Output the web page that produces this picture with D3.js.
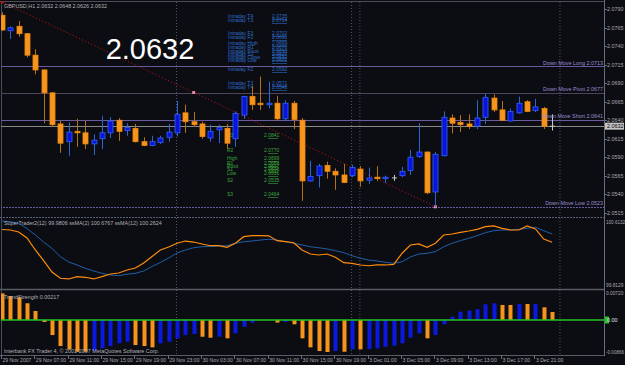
<!DOCTYPE html>
<html>
<head>
<meta charset="utf-8">
<script src="https://cdn.jsdelivr.net/npm/d3@7"></script>
<style>
body { margin: 0; background: #0c0d12; }
svg { display: block; }
</style>
</head>
<body>
<div id="viz"></div>
<script>
// GBPUSD H1, 29 Nov 03:00 -> 3 Dec 22:00 (67 bars)
const open = [2.0782, 2.0761, 2.0767, 2.0757, 2.0728, 2.0708, 2.0677, 2.0635, 2.0611, 2.0625,
  2.0623, 2.0608, 2.0615, 2.0623, 2.0640, 2.0626, 2.0629, 2.0611, 2.0606, 2.0610,
  2.0617, 2.0623, 2.0650, 2.0638, 2.0635, 2.0616, 2.0627, 2.0629, 2.0615, 2.0647,
  2.0672, 2.0663, 2.0661, 2.0663, 2.0642, 2.0663, 2.0640, 2.0558, 2.0565, 2.0579,
  2.0571, 2.0566, 2.0565, 2.0574, 2.0559, 2.0563, 2.0561, 2.0562, 2.0565, 2.0572,
  2.0591, 2.0597, 2.0543, 2.0592, 2.0643, 2.0637, 2.0635, 2.0632, 2.0644, 2.0670,
  2.0654, 2.0639, 2.0650, 2.0665, 2.0653, 2.0656, 2.0632];
const high = [2.0786, 2.0767, 2.0774, 2.0758, 2.0736, 2.0709, 2.0678, 2.0639, 2.0637, 2.0642,
  2.0639, 2.0621, 2.0646, 2.0644, 2.0643, 2.0636, 2.0635, 2.0617, 2.0619, 2.0619,
  2.0635, 2.0666, 2.0661, 2.0651, 2.0638, 2.0634, 2.0634, 2.0635, 2.0652, 2.0673,
  2.0686, 2.0699, 2.0692, 2.0673, 2.0667, 2.0666, 2.0643, 2.0585, 2.0581, 2.0584,
  2.0575, 2.0581, 2.0580, 2.0578, 2.0576, 2.0578, 2.0565, 2.0566, 2.0577, 2.0600,
  2.0636, 2.0598, 2.0597, 2.0652, 2.0648, 2.0647, 2.0648, 2.0667, 2.0676, 2.0675,
  2.0666, 2.0656, 2.0672, 2.0667, 2.0669, 2.0658, 2.0648];
const low = [2.0761, 2.0750, 2.0753, 2.0725, 2.0702, 2.0636, 2.0631, 2.0596, 2.0592, 2.0604,
  2.0601, 2.0593, 2.0601, 2.0616, 2.0612, 2.0619, 2.0610, 2.0605, 2.0605, 2.0608,
  2.0611, 2.0618, 2.0623, 2.0631, 2.0615, 2.0611, 2.0609, 2.0601, 2.0604, 2.0642,
  2.0654, 2.0654, 2.0656, 2.0639, 2.0639, 2.0628, 2.0531, 2.0557, 2.0549, 2.0561,
  2.0546, 2.0555, 2.0563, 2.0550, 2.0554, 2.0558, 2.0555, 2.0558, 2.0563, 2.0566,
  2.0589, 2.0540, 2.0523, 2.0591, 2.0622, 2.0624, 2.0628, 2.0628, 2.0635, 2.0651,
  2.0639, 2.0638, 2.0649, 2.0651, 2.0651, 2.0628, 2.0626];
const close = [2.0762, 2.0765, 2.0757, 2.0728, 2.0708, 2.0677, 2.0634, 2.0609, 2.0624, 2.0623,
  2.0608, 2.0613, 2.0623, 2.0639, 2.0625, 2.0630, 2.0611, 2.0606, 2.0611, 2.0616,
  2.0624, 2.0648, 2.0638, 2.0634, 2.0618, 2.0625, 2.0630, 2.0609, 2.0649, 2.0672,
  2.0661, 2.0661, 2.0663, 2.0642, 2.0663, 2.0641, 2.0558, 2.0564, 2.0578, 2.0571,
  2.0566, 2.0556, 2.0576, 2.0558, 2.0562, 2.0561, 2.0563, 2.0562, 2.0571, 2.0590,
  2.0597, 2.0542, 2.0594, 2.0644, 2.0636, 2.0634, 2.0632, 2.0643, 2.0671, 2.0654,
  2.0640, 2.0652, 2.0663, 2.0652, 2.0658, 2.0632, 2.0632];

// oscillator window (ssMA 2 / ssMA 12)
const oscFast = [100.500, 100.494, 100.470, 100.398, 100.255, 100.129, 99.992, 99.917, 99.909, 99.936,
  99.929, 99.909, 99.936, 99.968, 99.980, 100.016, 100.040, 100.100, 100.177, 100.255,
  100.291, 100.335, 100.362, 100.350, 100.327, 100.306, 100.306, 100.287, 100.335, 100.414,
  100.426, 100.426, 100.424, 100.366, 100.354, 100.342, 100.255, 100.207, 100.195, 100.207,
  100.168, 100.103, 100.096, 100.076, 100.067, 100.076, 100.076, 100.084, 100.216, 100.315,
  100.327, 100.287, 100.335, 100.434, 100.446, 100.466, 100.482, 100.502, 100.533, 100.542,
  100.514, 100.494, 100.494, 100.542, 100.506, 100.386, 100.347];
const oscSlow = [100.601, 100.593, 100.571, 100.512, 100.434, 100.350, 100.273, 100.175, 100.112, 100.076,
  100.036, 100.004, 99.977, 99.956, 99.948, 99.965, 99.977, 100.004, 100.058, 100.106,
  100.159, 100.219, 100.255, 100.282, 100.294, 100.297, 100.303, 100.306, 100.335, 100.354,
  100.362, 100.374, 100.383, 100.374, 100.354, 100.335, 100.315, 100.294, 100.282, 100.267,
  100.247, 100.223, 100.187, 100.156, 100.135, 100.124, 100.108, 100.096, 100.115, 100.171,
  100.207, 100.215, 100.235, 100.294, 100.335, 100.366, 100.395, 100.426, 100.462, 100.485,
  100.494, 100.494, 100.502, 100.514, 100.526, 100.485, 100.446];

// strength histogram, tone 1 = blue, 0 = orange
const strength = [0.0072, 0.0065, 0.00615, 0.00453, 0.00244, -0.00054, -0.00407, -0.00705, -0.00794, -0.00859,
  -0.00859, -0.00832, -0.00767, -0.00705, -0.00631, -0.00588, -0.00678, -0.00705, -0.0074, -0.00631,
  -0.00588, -0.00496, -0.00407, -0.00379, -0.00453, -0.0048, -0.00453, -0.00496, -0.0036, -0.00182,
  -0.00073, -0.0001, 0.00005, -0.0007, -0.0005, -0.00117, -0.00496, -0.0074, -0.0084, -0.00866,
  -0.0084, -0.00859, -0.00794, -0.00794, -0.00786, -0.00767, -0.00724, -0.00696, -0.00631, -0.0048,
  -0.0036, -0.00496, -0.00407, -0.00117, 0.00089, 0.00225, 0.00252, 0.0029, 0.00425, 0.00453,
  0.00407, 0.00407, 0.00434, 0.00434, 0.00434, 0.00344, 0.00217];
const strengthTone = [0,0,0,0,0,0,0,0,0,0, 0,1,1,1,1,1,0,0,0,1, 1,1,1,1,0,0,1,0,1,1,
  1,1,1,0,1,0,0,0,0,0, 1,0,1,0,1,1,1,1,1,1, 1,0,1,1,1,1,1,1,1,1, 0,0,1,0,1,0,0];

const timeTicks = [0, 4, 8, 12, 16, 20, 24, 28, 32, 36, 40, 44, 48, 52, 56, 60, 64];
const timeLabels = ["29 Nov 2007", "29 Nov 07:00", "29 Nov 11:00", "29 Nov 15:00", "29 Nov 19:00",
  "29 Nov 23:00", "30 Nov 03:00", "30 Nov 07:00", "30 Nov 11:00", "30 Nov 15:00", "30 Nov 19:00",
  "3 Dec 01:00", "3 Dec 05:00", "3 Dec 09:00", "3 Dec 13:00", "3 Dec 17:00", "3 Dec 21:00"];
const daySeparators = [21, 42, 43, 67];

const priceTicks = [2.0790, 2.0765, 2.0740, 2.0715, 2.0690, 2.0665, 2.0640, 2.0615, 2.0590, 2.0565, 2.0540, 2.0515];
const lastPrice = 2.0632;

const levelNames = ["Down Move Long", "Down Move Pivot", "Down Move Short", "Down Move Low"];
const levelValues = [2.0713, 2.0677, 2.0641, 2.0523];

const trendBars = [0, 52];
const trendPrices = [2.0800, 2.0523];

const intradayNames = ["Intraday  T4", "Intraday  T3", "Intraday  F3", "Intraday  F2", "Intraday  High",
  "Intraday  R1", "Intraday  Pivot", "Intraday  S1", "Intraday  Close", "Intraday  Low",
  "Intraday  F2", "Intraday  T3", "Intraday  T4"];
const intradayValues = ["2.0735", "2.0714", "2.0702", "2.0691", "2.0699", "2.0676", "2.0650",
  "2.0627", "2.0632", "2.0601", "2.0592", "2.0571", "2.0548"];
const dailyNames = ["R3", "R2", "High", "R1", "Pivot", "S1", "Low", "S2", "S3"];
const dailyValues = ["2.0841", "2.0770", "2.0699", "2.0688", "2.0617", "2.0606", "2.0531", "2.0535", "2.0464"];

const W = 625, H = 365, AX = 604;
const FONT = "'Liberation Sans', Arial, sans-serif";
const SMALL = 5.4;   // visual size of the small terminal text

const svg = d3.select("#viz").append("svg")
    .attr("width", W)
    .attr("height", H)
    .style("background", "#0c0d12");

// small text is drawn at 10px and scaled down, so the browser minimum font size does not kick in
function tiny(g, px, py, str, size = SMALL) {
    return g.append("text")
        .attr("transform", `translate(${px},${py}) scale(${size / 10})`)
        .attr("font-size", 10)
        .text(str);
}

// scales
const x = d3.scaleLinear().domain([0, 64]).range([2, 2 + 64 * 8.335]);
const y = d3.scaleLinear().domain([2.0515, 2.0790]).range([212.7, 9.3]);
const y2 = d3.scaleLinear().domain([99.8129, 100.6132]).range([287, 220]);
const y3 = d3.scaleLinear().domain([-0.00866, 0.0072]).range([352, 293.4]);
const idx = d3.range(open.length);

const defs = svg.append("defs");
defs.append("clipPath").attr("id", "c1").append("rect").attr("x", 1).attr("y", 1).attr("width", AX - 1).attr("height", 216);
defs.append("clipPath").attr("id", "c2").append("rect").attr("x", 1).attr("y", 218).attr("width", AX - 1).attr("height", 71);
defs.append("clipPath").attr("id", "c3").append("rect").attr("x", 1).attr("y", 290).attr("width", AX - 1).attr("height", 65);

// frame
const frame = svg.append("g");
frame.append("line").attr("x1", 0).attr("x2", AX).attr("y1", 1.5).attr("y2", 1.5).attr("stroke", "#4a4d55");
frame.append("line").attr("x1", 1.5).attr("x2", 1.5).attr("y1", 1).attr("y2", 355).attr("stroke", "#4a4d55");
frame.append("line").attr("x1", 0).attr("x2", AX).attr("y1", 217.5).attr("y2", 217.5)
    .attr("stroke", "#56607a").attr("stroke-dasharray", "2,1");
frame.append("line").attr("x1", 0).attr("x2", AX).attr("y1", 289.5).attr("y2", 289.5)
    .attr("stroke", "#5a5d66").attr("stroke-width", 1.5);
frame.append("line").attr("x1", 0).attr("x2", AX).attr("y1", 355.5).attr("y2", 355.5).attr("stroke", "#5a5d66");
frame.append("line").attr("x1", AX + 0.5).attr("x2", AX + 0.5).attr("y1", 0).attr("y2", 356).attr("stroke", "#6a6d75");

// day separators
svg.append("g").selectAll("line").data(daySeparators).join("line")
    .attr("x1", d => x(d) - 0.5).attr("x2", d => x(d) - 0.5)
    .attr("y1", 2).attr("y2", 355)
    .attr("stroke", "#4e5668").attr("stroke-dasharray", "1,2");

// ---- main panel ----
const main = svg.append("g").attr("clip-path", "url(#c1)");

main.selectAll("line.level").data(levelValues).join("line")
    .attr("class", "level")
    .attr("x1", 0).attr("x2", AX)
    .attr("y1", d => Math.round(y(d)) + 0.5).attr("y2", d => Math.round(y(d)) + 0.5)
    .attr("stroke", (d, i) => i === 1 ? "#4d4560" : "#6a5aa0")
    .attr("stroke-dasharray", (d, i) => i === 3 ? "2,1" : null);

main.append("line")
    .attr("x1", 0).attr("x2", AX)
    .attr("y1", Math.round(y(lastPrice)) + 0.5).attr("y2", Math.round(y(lastPrice)) + 0.5)
    .attr("stroke", "#8a8a8a");

// trend line
main.append("line")
    .attr("x1", x(trendBars[0])).attr("y1", y(trendPrices[0]))
    .attr("x2", x(trendBars[1])).attr("y2", y(trendPrices[1]))
    .attr("stroke", "#b01010").attr("stroke-dasharray", "1.2,2.2");
main.selectAll("rect.tm").data([0, 1]).join("rect")
    .attr("class", "tm")
    .attr("x", d => x(trendBars[d]) - 1.5).attr("y", d => y(trendPrices[d]) - 1.5)
    .attr("width", 3).attr("height", 3)
    .attr("fill", d => d === 0 ? "#c01818" : "#e88aa0");
main.append("rect")
    .attr("x", x(23) - 1.5)
    .attr("y", y(trendPrices[0] + (trendPrices[1] - trendPrices[0]) * 23 / trendBars[1]) - 1.5)
    .attr("width", 3).attr("height", 3).attr("fill", "#e88aa0");

// text blocks of the pivot indicators
const ib = main.append("g").attr("font-family", FONT).attr("fill", "#2c6cc8");
const ibRows = [18, 22, 35, 39, 45, 49, 53, 56, 59, 62, 71, 85, 89];
ibRows.forEach((r, i) => {
    tiny(ib, 228, r, intradayNames[i], 5);
    tiny(ib, 272, r, intradayValues[i], 5);
    ib.append("line").attr("x1", 272).attr("x2", 287).attr("y1", r + 1.5).attr("y2", r + 1.5)
        .attr("stroke", "#2c6cc8").attr("stroke-width", 0.6);
});
const dl = main.append("g").attr("font-family", FONT).attr("fill", "#3aa83a");
const dlRows = [137, 152, 160, 165, 168, 171, 175, 182, 196];
dlRows.forEach((r, i) => {
    tiny(dl, 227, r, dailyNames[i], 5);
    tiny(dl, 264, r, dailyValues[i], 5);
    dl.append("line").attr("x1", 268).attr("x2", 278).attr("y1", r + 1.5).attr("y2", r + 1.5)
        .attr("stroke", "#3aa83a").attr("stroke-width", 0.6);
});

// candles
const tone = i => close[i] > open[i] ? "up" : close[i] < open[i] ? "down" : "doji";
const wickCol = { up: "#2d66d2", down: "#b8700e", doji: "#c8c8c8" };
const bodyFill = { up: "#0a14d8", down: "#f7941d", doji: "#c8c8c8" };
const bodyStroke = { up: "#2f62ff", down: "#f08a10", doji: "#c8c8c8" };

main.selectAll("line.wick").data(idx).join("line")
    .attr("class", "wick")
    .attr("x1", i => Math.round(x(i)) + 0.5).attr("x2", i => Math.round(x(i)) + 0.5)
    .attr("y1", i => y(high[i])).attr("y2", i => y(low[i]))
    .attr("stroke", i => wickCol[tone(i)]);

main.selectAll("rect.body").data(idx.filter(i => tone(i) !== "doji")).join("rect")
    .attr("class", "body")
    .attr("x", i => Math.round(x(i)) - 2)
    .attr("y", i => y(Math.max(open[i], close[i])))
    .attr("width", 5)
    .attr("height", i => Math.max(1, Math.abs(y(open[i]) - y(close[i]))))
    .attr("fill", i => bodyFill[tone(i)])
    .attr("stroke", i => bodyStroke[tone(i)])
    .attr("stroke-width", 0.8);

main.selectAll("line.doji").data(idx.filter(i => tone(i) === "doji")).join("line")
    .attr("class", "doji")
    .attr("x1", i => Math.round(x(i)) - 2).attr("x2", i => Math.round(x(i)) + 3)
    .attr("y1", i => y(open[i])).attr("y2", i => y(open[i]))
    .attr("stroke", "#c8c8c8");

// big price label
svg.append("text")
    .attr("x", 150).attr("y", 59)
    .attr("text-anchor", "middle")
    .attr("font-family", FONT).attr("font-size", 29)
    .attr("fill", "#ffffff")
    .text(lastPrice.toFixed(4));

const lvText = svg.append("g").attr("font-family", FONT).attr("fill", "#9a8cd0").attr("text-anchor", "end");
levelValues.forEach((v, i) => tiny(lvText, 603, y(v) - 1.5, `${levelNames[i]}  ${v.toFixed(4)}`));

// price axis
const ax = svg.append("g").attr("font-family", FONT).attr("fill", "#a8a8ae");
ax.selectAll("line.pt").data(priceTicks).join("line")
    .attr("class", "pt")
    .attr("x1", AX).attr("x2", AX + 3)
    .attr("y1", d => Math.round(y(d)) + 0.5).attr("y2", d => Math.round(y(d)) + 0.5)
    .attr("stroke", "#6a6d75");
priceTicks.forEach(d => tiny(ax, AX + 3, y(d), d.toFixed(4)).attr("dy", "0.35em"));
ax.append("rect")
    .attr("x", AX + 1).attr("y", y(lastPrice) - 3.5)
    .attr("width", 19).attr("height", 7).attr("fill", "#c4c4c4");
tiny(ax, AX + 3, y(lastPrice), lastPrice.toFixed(4)).attr("dy", "0.35em").attr("fill", "#000");

// ---- oscillator panel ----
const p2 = svg.append("g").attr("clip-path", "url(#c2)");
const line2 = arr => d3.line().x(i => x(i)).y(i => y2(arr[i]))(idx);
p2.append("path").attr("d", line2(oscSlow)).attr("fill", "none").attr("stroke", "#1f5fa8").attr("stroke-width", 1);
p2.append("path").attr("d", line2(oscFast)).attr("fill", "none").attr("stroke", "#ff8c0a").attr("stroke-width", 1.2);
tiny(ax, AX + 2, y2.range()[1] + 2, "100.6132", 4.6).attr("dy", "0.35em");
tiny(ax, AX + 2, y2.range()[0] - 2, "99.8129", 4.8).attr("dy", "0.35em");

// ---- strength panel ----
const p3 = svg.append("g").attr("clip-path", "url(#c3)");
p3.selectAll("rect").data(idx).join("rect")
    .attr("x", i => Math.round(x(i)) - 1.5)
    .attr("y", i => Math.min(y3(0), y3(strength[i])))
    .attr("width", 4)
    .attr("height", i => Math.abs(y3(strength[i]) - y3(0)))
    .attr("fill", i => strengthTone[i] ? "#0a18e0" : "#f7941d");
p3.append("line").attr("x1", 0).attr("x2", AX)
    .attr("y1", y3(0)).attr("y2", y3(0))
    .attr("stroke", "#22c422").attr("stroke-width", 1.5);
tiny(ax, AX + 2, y3(0.0072), "0.00720", 4.8).attr("dy", "0.35em");
ax.append("rect").attr("x", AX + 1).attr("y", y3(0) - 3.5).attr("width", 4).attr("height", 7).attr("fill", "#22c422");
tiny(ax, AX + 3, y3(0), "0.00").attr("dy", "0.35em").attr("fill", "#e0e0e0");
tiny(ax, AX + 2, y3(-0.00866), "-0.00866", 4.6).attr("dy", "0.35em");

// window captions, drawn over the marks
const txt = svg.append("g").attr("font-family", FONT).attr("fill", "#b0b0b8");
tiny(txt, 4, 8, "GBPUSD,H1  2.0632 2.0648 2.0626 2.0632");
tiny(txt, 4, 225, "SuperTrader2(12) 99.9806   ssMA(2) 100.6767   ssMA(12) 100.2624");
tiny(txt, 4, 299, "TrendStrength 0.00217");
tiny(txt, 4, 353, "Interbank FX Trader 4, © 2001-2007 MetaQuotes Software Corp.");

// ---- time axis ----
const tx = svg.append("g").attr("font-family", FONT).attr("fill", "#a8a8ae");
tx.selectAll("line").data(timeTicks).join("line")
    .attr("x1", d => Math.round(x(d)) - 0.5).attr("x2", d => Math.round(x(d)) - 0.5)
    .attr("y1", 355).attr("y2", 359)
    .attr("stroke", "#6a6d75");
timeTicks.forEach((d, i) => tiny(tx, x(d) + 0.5, 362, timeLabels[i], 5.1));
</script>
</body>
</html>
